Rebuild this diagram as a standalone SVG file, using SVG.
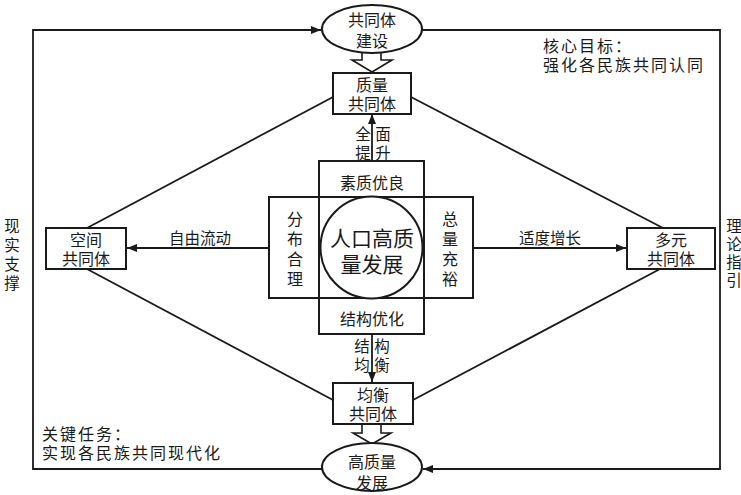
<svg xmlns="http://www.w3.org/2000/svg" width="741" height="495" viewBox="0 0 741 495">
<style>
text{font-family:"Noto Sans CJK SC","Noto Sans",sans-serif;fill:#1a1a1a;text-anchor:middle;dominant-baseline:central}
.n{font-size:16px}
.c{font-size:21px}
.l{font-size:15.5px}
.t{font-size:16px;text-anchor:start;letter-spacing:2px}
.s{font-size:15.5px}
.box{fill:#fff;stroke:#1a1a1a;stroke-width:2}
.ln{fill:none;stroke:#1a1a1a;stroke-width:1.8}
.ha{fill:#fff;stroke:#1a1a1a;stroke-width:1.6;stroke-linejoin:miter}
</style>
<defs>
<marker id="ah" viewBox="0 0 10 8" refX="10" refY="4" markerWidth="10" markerHeight="8" markerUnits="userSpaceOnUse" orient="auto">
<path d="M0,0 L10,4 L0,8 Z" fill="#1a1a1a"/>
</marker>
</defs>
<g id="connectors">
<polyline class="ln" points="322,469 33,469 33,30 321,30" marker-end="url(#ah)"/>
<polyline class="ln" points="422,30 720,30 720,469 423,469" marker-end="url(#ah)"/>
<line class="ln" x1="333" y1="97" x2="87" y2="228"/>
<line class="ln" x1="411" y1="97" x2="663" y2="228"/>
<line class="ln" x1="87" y1="269" x2="333" y2="400"/>
<line class="ln" x1="413" y1="400" x2="660" y2="269"/>
<line class="ln" x1="269" y1="248" x2="127" y2="248" marker-end="url(#ah)"/>
<line class="ln" x1="473" y1="248" x2="626" y2="248" marker-end="url(#ah)"/>
<line class="ln" x1="372" y1="161" x2="372" y2="114" marker-end="url(#ah)"/>
<line class="ln" x1="372" y1="334" x2="372" y2="382" marker-end="url(#ah)"/>
<path class="ha" d="M362,52 L362,60 L352,60 L372,72 L392,60 L381,60 L381,52"/>
<path class="ha" d="M362,424 L362,433 L353,433 L372,444 L391,433 L381,433 L381,424"/>
<text class="l" x="200" y="237">自由流动</text>
<text class="l" x="550" y="237">适度增长</text>
<text class="l" x="363" y="133">全</text>
<text class="l" x="383" y="133">面</text>
<text class="l" x="363" y="152">提</text>
<text class="l" x="383" y="152">升</text>
<text class="l" x="362" y="345">结</text>
<text class="l" x="382" y="345">构</text>
<text class="l" x="362" y="364">均</text>
<text class="l" x="382" y="364">衡</text>
</g>
<g id="top-ellipse">
<ellipse class="box" cx="372" cy="29" rx="50" ry="24"/>
<text class="n" x="372" y="19">共同体</text>
<text class="n" x="372" y="40">建设</text>
</g>
<g id="bottom-ellipse">
<ellipse class="box" cx="372" cy="467" rx="50" ry="24"/>
<text class="n" x="372" y="461">高质量</text>
<text class="n" x="372" y="482">发展</text>
</g>
<g id="quality">
<rect class="box" x="333" y="73" width="78" height="41"/>
<text class="n" x="372" y="84">质量</text>
<text class="n" x="372" y="103">共同体</text>
</g>
<g id="balance">
<rect class="box" x="333" y="383" width="80" height="41"/>
<text class="n" x="373" y="394">均衡</text>
<text class="n" x="373" y="413">共同体</text>
</g>
<g id="space">
<rect class="box" x="46" y="228" width="80" height="41"/>
<text class="n" x="86" y="239">空间</text>
<text class="n" x="86" y="258">共同体</text>
</g>
<g id="diverse">
<rect class="box" x="627" y="228" width="88" height="41"/>
<text class="n" x="671" y="239">多元</text>
<text class="n" x="671" y="258">共同体</text>
</g>
<g id="center">
<rect class="box" x="319" y="161" width="105" height="173"/>
<rect class="box" x="269" y="197" width="204" height="101"/>
<line class="ln" x1="319" y1="197" x2="319" y2="298" style="stroke-width:2"/>
<line class="ln" x1="424" y1="197" x2="424" y2="298" style="stroke-width:2"/>
<line class="ln" x1="319" y1="197" x2="424" y2="197" style="stroke-width:2"/>
<line class="ln" x1="319" y1="298" x2="424" y2="298" style="stroke-width:2"/>
<circle class="box" cx="371.5" cy="247.5" r="51"/>
<text class="c" x="372" y="237">人口高质</text>
<text class="c" x="372" y="263">量发展</text>
<text class="n" x="372" y="182">素质优良</text>
<text class="n" x="372" y="318">结构优化</text>
<text class="n" x="295" y="218">分</text>
<text class="n" x="295" y="238">布</text>
<text class="n" x="295" y="258">合</text>
<text class="n" x="295" y="278">理</text>
<text class="n" x="450" y="218">总</text>
<text class="n" x="450" y="238">量</text>
<text class="n" x="450" y="258">充</text>
<text class="n" x="450" y="278">裕</text>
</g>
<g id="goal">
<text class="t" x="543" y="45">核心目标：</text>
<text class="t" x="543" y="64">强化各民族共同认同</text>
</g>
<g id="task">
<text class="t" x="42" y="433">关键任务：</text>
<text class="t" x="42" y="452">实现各民族共同现代化</text>
</g>
<g id="left-label">
<text class="s" x="12" y="225">现</text>
<text class="s" x="12" y="244">实</text>
<text class="s" x="12" y="263">支</text>
<text class="s" x="12" y="282">撑</text>
</g>
<g id="right-label">
<text class="s" x="734" y="225">理</text>
<text class="s" x="734" y="243">论</text>
<text class="s" x="734" y="261">指</text>
<text class="s" x="734" y="279">引</text>
</g>
</svg>
